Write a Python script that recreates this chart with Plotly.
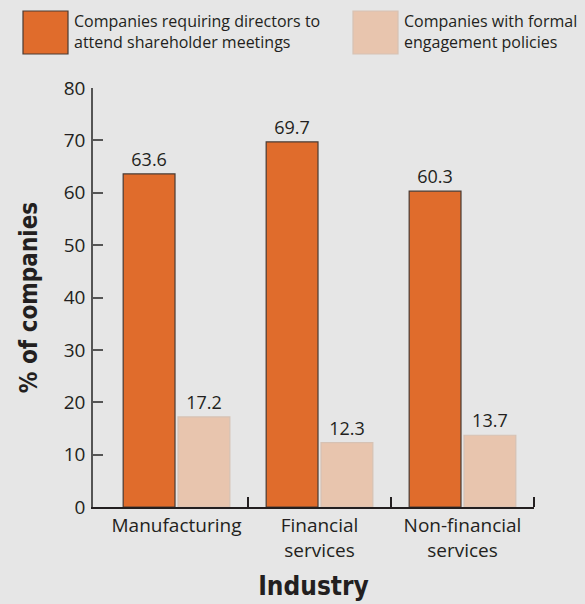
import plotly.graph_objects as go

categories = ["Manufacturing", "Financial<br>services", "Non-financial<br>services"]
series_names = ["Companies requiring directors to<br>attend shareholder meetings",
                "Companies with formal<br>engagement policies"]
attend_values = [63.6, 69.7, 60.3]
policy_values = [17.2, 12.3, 13.7]
y_ticks = [0, 10, 20, 30, 40, 50, 60, 70, 80]

ORANGE = "#e06c2c"
PALE = "#e8c5ae"
BG = "#e6e6e6"
TXT = "#231f20"
FONT = "Open Sans, Noto Sans, sans-serif"
COND = "DejaVu Sans Condensed"

x_idx = list(range(len(categories)))

fig = go.Figure()
fig.add_trace(go.Bar(
    x=x_idx, y=attend_values, name=series_names[0],
    marker=dict(color=ORANGE, line=dict(color="#4a3a32", width=1.2)),
    text=[f"{v:.1f}" for v in attend_values], textposition="outside",
    textfont=dict(size=18, color=TXT, family=FONT), cliponaxis=False,
    showlegend=False,
))
fig.add_trace(go.Bar(
    x=x_idx, y=policy_values, name=series_names[1],
    marker=dict(color=PALE, line=dict(color="#d6c2b4", width=1.2)),
    text=[f"{v:.1f}" for v in policy_values], textposition="outside",
    textfont=dict(size=18, color=TXT, family=FONT), cliponaxis=False,
    showlegend=False,
))

legend_colors = [ORANGE, PALE]
legend_lines = ["#4a3a32", "#d6c2b4"]
legend_x = [23, 353]
for name, col, lc, lx in zip(series_names, legend_colors, legend_lines, legend_x):
    fig.add_shape(type="rect", xref="paper", yref="paper",
                  x0=(lx - 93) / 441, x1=(lx + 45 - 93) / 441,
                  y0=(507 - 54) / 419, y1=(507 - 11) / 419,
                  fillcolor=col, line=dict(color=lc, width=1.2))
    fig.add_annotation(text=name, xref="paper", yref="paper",
                       x=(lx + 49 - 93) / 441, y=(507 - 32) / 419,
                       xanchor="left", yanchor="middle", align="left",
                       showarrow=False,
                       font=dict(size=16, color=TXT, family=FONT))

fig.update_layout(
    width=585, height=604,
    margin=dict(l=93, r=51, t=88, b=97),
    paper_bgcolor=BG, plot_bgcolor=BG,
    barmode="group", bargap=0.233, bargroupgap=0.055,
    font=dict(family=FONT, color=TXT),
    xaxis=dict(
        tickmode="array", tickvals=x_idx, ticktext=categories,
        range=[-0.584, 2.5], showline=True, linecolor="#231f20", linewidth=2,
        ticks="", tickfont=dict(size=19, color=TXT, family=FONT),
        showgrid=False, zeroline=False, automargin=False,
        minor=dict(tickmode="array", tickvals=[0.5, 1.5, 2.5], ticks="inside",
                   ticklen=10, tickwidth=1.5, tickcolor="#231f20", showgrid=False),
        title=dict(text="<b>Industry</b>", standoff=15,
                   font=dict(size=26, color=TXT, family=COND)),
    ),
    yaxis=dict(
        range=[0, 80], tickmode="array", tickvals=y_ticks,
        showline=True, linecolor="#555555", linewidth=1.5,
        ticks="inside", ticklen=10, tickwidth=1.5, tickcolor="#555555",
        tickfont=dict(size=19, color=TXT, family=FONT),
        showgrid=False, zeroline=False, ticklabelstandoff=2, automargin=False,
        title=dict(text="<b>% of companies</b>", standoff=19,
                   font=dict(size=24, color=TXT, family=COND)),
    ),
)

fig.write_html("out.html", config={"displayModeBar": False},
               post_script="document.body.style.margin='0px';"
                           "document.body.style.background='#e6e6e6';")
